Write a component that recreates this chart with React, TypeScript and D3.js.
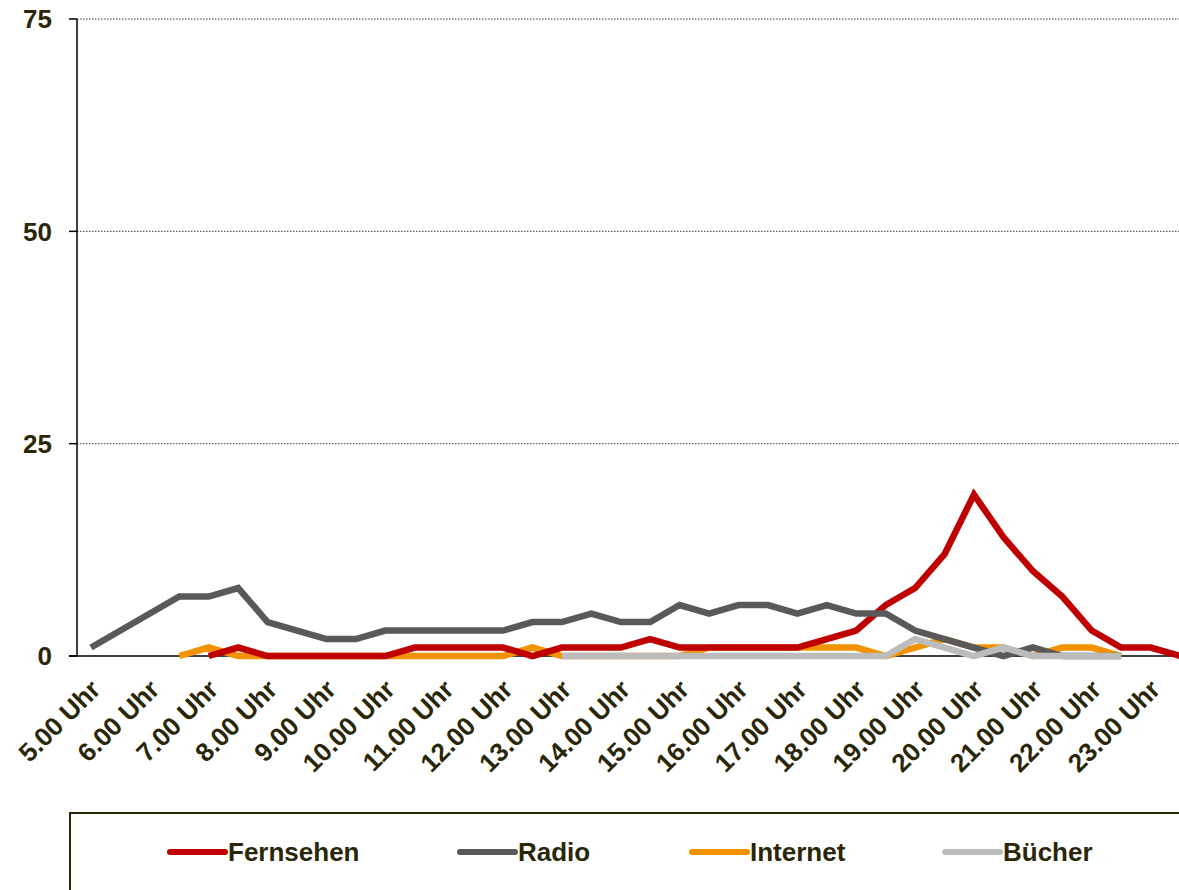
import React from "react";
import * as d3 from "d3";

const times: string[] = [];
const hours = d3.range(5, 24);
hours.forEach((h) => { times.push(`${h}.00`); times.push(`${h}.30`); });

const tickLabels = hours.map((h) => `${h}.00 Uhr`);

const fernsehen: (number | null)[] = [null, null, null, null, 0, 1, 0, 0, 0, 0, 0, 1, 1, 1, 1, 0, 1, 1, 1, 2, 1, 1, 1, 1, 1, 2, 3, 6, 8, 12, 19, 14, 10, 7, 3, 1, 1, 0];
const radio: (number | null)[] = [1, 3, 5, 7, 7, 8, 4, 3, 2, 2, 3, 3, 3, 3, 3, 4, 4, 5, 4, 4, 6, 5, 6, 6, 5, 6, 5, 5, 3, 2, 1, 0, 1, 0, 0, 0, null, null];
const internet: (number | null)[] = [null, null, null, 0, 1, 0, 0, 0, 0, 0, 0, 0, 0, 0, 0, 1, 0, 0, 0, 0, 0, 1, 1, 1, 1, 1, 1, 0, 1, 2, 1, 1, 0, 1, 1, 0, null, null];
const buecher: (number | null)[] = [null, null, null, null, null, null, null, null, null, null, null, null, null, null, null, null, 0, 0, 0, 0, 0, 0, 0, 0, 0, 0, 0, 0, 2, 1, 0, 1, 0, 0, 0, 0, null, null];

const seriesNames = ["Fernsehen", "Radio", "Internet", "Bücher"];
const seriesColors = ["#c00000", "#595959", "#f39200", "#bcbcbc"];
const seriesData = [fernsehen, radio, internet, buecher];
const drawOrder = [2, 0, 1, 3];
const legendX = [170, 460, 692, 945];

const yTicks = [0, 25, 50, 75];

const TEXT = "#2a2708";
const FONT = "'Liberation Sans', Arial, sans-serif";
const FS = 26;

export default function App() {
  const W = 1179, H = 890;
  const x = d3.scaleLinear().domain([0, times.length - 1]).range([91, 1180]);
  const y = d3.scaleLinear().domain([0, 75]).range([656, 19]);
  const line = d3.line<number | null>()
    .defined((d) => d != null)
    .x((_, i) => x(i))
    .y((d) => y(d as number));

  return (
    <svg width={W} height={H} style={{ position: "absolute", left: 0, top: 0, background: "#fff" }} fontFamily={FONT}>
      {yTicks.filter((t) => t > 0).map((t) => (
        <line key={t} x1={77} x2={W} y1={y(t)} y2={y(t)} stroke="#3a3a2a" strokeWidth={1} strokeDasharray="1.5,1.5" />
      ))}
      {yTicks.map((t) => (
        <g key={"yt" + t}>
          <line x1={69} x2={77} y1={y(t)} y2={y(t)} stroke="#000" strokeWidth={1.5} />
          <text x={52} y={y(t)} dy="0.36em" textAnchor="end" fontSize={FS} fontWeight="bold" fill={TEXT}>{t}</text>
        </g>
      ))}
      <line x1={77} x2={77} y1={19} y2={656} stroke="#000" strokeWidth={1.5} />
      <line x1={69} x2={W} y1={656} y2={656} stroke="#000" strokeWidth={1.5} />
      {drawOrder.map((si) => (
        <path key={seriesNames[si]} d={line(seriesData[si]) || ""} fill="none" stroke={seriesColors[si]} strokeWidth={6.5} strokeLinejoin="miter" strokeLinecap="butt" />
      ))}
      {tickLabels.map((lab, i) => {
        const tx = x(i * 2) + 11;
        const ty = 691;
        return (
          <text key={lab} x={tx} y={ty} transform={`rotate(-45 ${tx} ${ty})`} textAnchor="end" fontSize={FS} fontWeight="bold" fill={TEXT}>{lab}</text>
        );
      })}
      <rect x={70} y={813} width={1200} height={200} fill="none" stroke={TEXT} strokeWidth={2} />
      {seriesNames.map((n, i) => {
        const lx = legendX[i];
        return (
          <g key={n}>
            <line x1={lx} x2={lx + 55} y1={852} y2={852} stroke={seriesColors[i]} strokeWidth={6} strokeLinecap="round" />
            <text x={lx + 58} y={852} dy="0.36em" fontSize={FS} fontWeight="bold" fill={TEXT}>{n}</text>
          </g>
        );
      })}
    </svg>
  );
}
